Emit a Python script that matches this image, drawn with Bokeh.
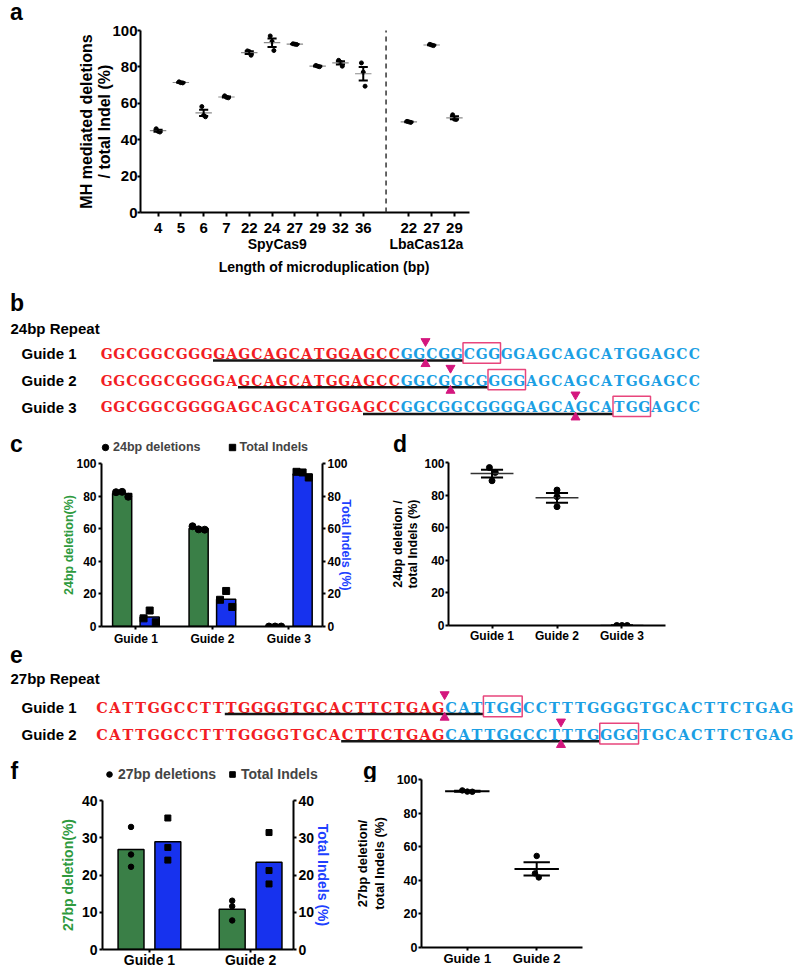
import numpy as np
from bokeh.plotting import figure
from bokeh.models import (Range1d, LinearAxis, FixedTicker, Arrow,
                          Legend, LegendItem, ColumnDataSource)
from bokeh.layouts import column, row
from bokeh.embed import file_html
from bokeh.resources import INLINE
from bokeh.core.properties import value

# ---------------------------------------------------------------- data
a_lengths = ["4", "5", "6", "7", "22", "24", "27", "29", "32", "36", "22", "27", "29"]
a_enzyme = ["SpyCas9"] * 10 + ["LbaCas12a"] * 3
a_reps = [
    [46.0, 44.6, 44.2],
    [71.8, 71.3, 71.2],
    [58.2, 53.5, 52.6],
    [64.1, 63.3, 63.0],
    [88.8, 88.4, 86.4],
    [97.0, 94.0, 89.0],
    [92.7, 92.5, 92.3],
    [80.8, 80.4, 80.1],
    [83.6, 82.6, 80.4],
    [82.2, 77.1, 69.4],
    [50.1, 49.8, 49.5],
    [92.4, 92.0, 91.7],
    [53.7, 51.3, 51.1],
]
a_groups = ["SpyCas9", "LbaCas12a"]
a_xtitle = "Length of microduplication (bp)"
a_ytitle = "MH mediated deletions\n/ total Indel (%)"

seq24 = "GGCGGCGGGGAGCAGCATGGAGCC"
b_guides = ["Guide 1", "Guide 2", "Guide 3"]
b_spacer_start = [9, 11, 21]

c_guides = ["Guide 1", "Guide 2", "Guide 3"]
c_del = [[82.4, 82.6, 79.6], [61.5, 59.6, 59.4], [0.0, 0.0, 0.0]]
c_indel = [[5.0, 9.8, 2.6], [16.4, 21.8, 12.0], [94.9, 94.5, 91.4]]
c_legend = ["24bp deletions", "Total Indels"]
d_ratio = [[96.9, 93.9, 88.8], [83.1, 79.0, 72.9], [0.0, 0.0, 0.0]]

seq27 = "CATTGGCCTTTGGGGTGCACTTCTGAG"
e_guides = ["Guide 1", "Guide 2"]
e_spacer_start = [10, 19]

f_guides = ["Guide 1", "Guide 2"]
f_del = [[32.9, 25.5, 22.2], [13.1, 11.6, 7.8]]
f_indel = [[35.3, 27.4, 24.0], [31.4, 21.2, 17.6]]
f_legend = ["27bp deletions", "Total Indels"]
g_ratio = [[93.5, 92.8, 92.7], [54.5, 44.1, 41.7]]

# ---------------------------------------------------------------- style
SANS = "Liberation Sans"
SEQF = "DejaVu Serif"
RED = "#F21D24"
BLUE = "#1C9FE4"
MAG = "#D4177E"
PAMC = "#E8457C"
GREEN = "#3A7F47"
BARBLUE = "#1732EE"
GREEN_TXT = "#2E9A3E"
BLUE_TXT = "#2040FF"


def no_align(p):
    try:
        p.frame_align = False
    except Exception:
        pass


def clear_bg(p):
    p.border_fill_color = None
    p.background_fill_color = None


def make_fig(w, h, frame, xr, yr, ox, oy):
    L, R, T, B = frame
    p = figure(width=w, height=h, x_range=Range1d(*xr), y_range=Range1d(*yr),
               output_backend="svg", toolbar_location=None,
               min_border_left=int(round(L - ox)), min_border_right=int(round(ox + w - R)),
               min_border_top=int(round(T - oy)), min_border_bottom=int(round(oy + h - B)))
    p.outline_line_color = None
    p.xgrid.visible = False
    p.ygrid.visible = False
    no_align(p)
    return p


def make_strip(w, h, ox, oy):
    p = figure(width=w, height=h, x_range=Range1d(ox, ox + w), y_range=Range1d(oy + h, oy),
               output_backend="svg", toolbar_location=None, min_border=0,
               x_axis_location=None, y_axis_location=None)
    p.outline_line_color = None
    p.xgrid.visible = False
    p.ygrid.visible = False
    no_align(p)
    return p


def strip_text(p, txt, x, y, size="23px"):
    p.text(x=[x], y=[y], text=[txt], text_font=value(SANS), text_font_style="bold",
           text_font_size=size, text_align="left", text_baseline="middle",
           text_color="black")


def strip_legend(p, labels, loc, size, glyph, spacing, standoff):
    r1 = p.scatter(x=[np.nan], y=[np.nan], marker="circle", size=6,
                   fill_color="black", line_color="black")
    r2 = p.scatter(x=[np.nan], y=[np.nan], marker="square", size=6,
                   fill_color="black", line_color="black")
    leg = Legend(items=[LegendItem(label=labels[0], renderers=[r1]),
                        LegendItem(label=labels[1], renderers=[r2])],
                 location=loc, orientation="horizontal", border_line_color=None,
                 background_fill_alpha=0, padding=0, margin=0, spacing=spacing,
                 glyph_width=glyph, glyph_height=glyph, label_height=glyph,
                 label_standoff=standoff, label_text_font=SANS,
                 label_text_font_style="bold", label_text_font_size=size,
                 label_text_baseline="middle")
    p.add_layout(leg)


def style_axis(ax, size, tick_out=3, standoff=1, label_size=None, label_standoff=2,
               label_color="black"):
    ax.axis_line_width = 2
    ax.axis_line_color = "black"
    ax.major_tick_line_width = 2
    ax.major_tick_line_color = "black"
    ax.major_tick_out = tick_out
    ax.major_tick_in = 0
    ax.minor_tick_line_color = None
    ax.major_label_text_font = SANS
    ax.major_label_text_font_style = "bold"
    ax.major_label_text_font_size = size
    ax.major_label_text_color = "black"
    ax.major_label_standoff = standoff
    ax.axis_label_text_font = SANS
    ax.axis_label_text_font_style = "bold"
    ax.axis_label_text_font_size = label_size or size
    ax.axis_label_text_color = label_color
    ax.axis_label_standoff = label_standoff
    ax.axis_label_text_line_height = 1.1


def overrides(pos, labels):
    d = {}
    for p_, l_ in zip(pos, labels):
        d[p_] = l_
        d[str(p_)] = l_
    return d


def mean_sem(p, xs, reps, jit, half_mean, half_cap, dot, mcolor, mwidth, ewidth=2):
    px, py = [], []
    for gi, (x, r) in enumerate(zip(xs, reps)):
        for k, v in enumerate(r):
            px.append(x + jit[gi][k])
            py.append(v)
    p.scatter(px, py, marker="circle", size=dot, fill_color="black", line_color="black")
    xs = np.asarray(xs, float)
    m = np.array([np.mean(r) for r in reps])
    s = np.array([np.std(r, ddof=1) / np.sqrt(len(r)) for r in reps])
    p.segment(x0=xs - half_mean, x1=xs + half_mean, y0=m, y1=m,
              line_color=mcolor, line_width=mwidth)
    p.segment(x0=xs, x1=xs, y0=m - s, y1=m + s, line_color="black", line_width=ewidth)
    for yy in (m + s, m - s):
        p.segment(x0=xs - half_cap, x1=xs + half_cap, y0=yy, y1=yy,
                  line_color="black", line_width=ewidth)


# ---------------------------------------------------------------- panel a
strip_a = make_strip(800, 26, 0, 0)
strip_text(strip_a, "a", 9.5, 11.8)

fa = (140, 469, 30, 212)
xra, yra = (-0.77, 13.66), (0, 100)
pa = make_fig(800, 266, fa, xra, yra, 0, 22)
clear_bg(pa)
pa.margin = (-4, 0, 0, 0)
a_pos = [i if e == a_groups[0] else i + 1 for i, e in enumerate(a_enzyme)]
a_sep = (max(p_ for p_, e in zip(a_pos, a_enzyme) if e == a_groups[0]) +
         min(p_ for p_, e in zip(a_pos, a_enzyme) if e == a_groups[1])) / 2
a_jit = [[-0.08, 0.0, 0.08]] * len(a_pos)
mean_sem(pa, a_pos, a_reps, a_jit, 0.36, 0.2, 4, "#8a8a8a", 1.2, 2)

style_axis(pa.xaxis[0], "15px", tick_out=4, standoff=6)
pa.xaxis[0].ticker = FixedTicker(ticks=a_pos)
pa.xaxis[0].major_label_overrides = overrides(a_pos, a_lengths)
style_axis(pa.yaxis[0], "15px", tick_out=3, standoff=0, label_size="16px", label_standoff=-4)
pa.yaxis[0].ticker = FixedTicker(ticks=[0, 20, 40, 60, 80, 100])
pa.yaxis[0].axis_label = a_ytitle

a_group_pos = [5.23, 11.77]
gax = LinearAxis(ticker=FixedTicker(ticks=a_group_pos),
                 major_label_overrides=overrides(a_group_pos, a_groups))
style_axis(gax, "14px", tick_out=0, standoff=0)
gax.axis_line_color = None
gax.major_tick_line_color = None
pa.add_layout(gax, "below")
a_title_pos = [7.28]
tax = LinearAxis(ticker=FixedTicker(ticks=a_title_pos),
                 major_label_overrides=overrides(a_title_pos, [a_xtitle]))
style_axis(tax, "14px", tick_out=0, standoff=4)
tax.axis_line_color = None
tax.major_tick_line_color = None
pa.add_layout(tax, "below")
pa.add_layout(Arrow(end=None, start=None, x_start=a_sep, y_start=101.6, x_end=a_sep,
                    y_end=-22, line_dash="5 4", line_width=1.5, line_color="#333333"))


# ---------------------------------------------------------------- sequence panels
def seq_panel(h, oy, xleft, pitch, row0, rstep, seq, guides, starts, letter, title,
              letter_mid, title_y, font_size):
    xr = ((0 - xleft) / pitch, (800 - xleft) / pitch)
    yr = ((oy + h - row0) / rstep, (oy - row0) / rstep)
    p = figure(width=800, height=h, x_range=Range1d(*xr), y_range=Range1d(*yr),
               output_backend="svg", toolbar_location=None, min_border=0,
               x_axis_location=None, y_axis_location=None)
    p.outline_line_color = None
    p.xgrid.visible = False
    p.ygrid.visible = False
    no_align(p)
    full = seq + seq
    xs, ys, tx, cl = [], [], [], []
    for r in range(len(guides)):
        for i, ch in enumerate(full):
            xs.append(i + 0.5)
            ys.append(r)
            tx.append(ch)
            cl.append(RED if i < len(seq) else BLUE)
    src = ColumnDataSource(dict(x=xs, y=ys, text=tx, color=cl))
    p.text(x="x", y="y", text="text", text_color="color", source=src,
           text_font=value(SEQF), text_font_style="bold", text_font_size=font_size,
           text_align="center", text_baseline="middle")
    rows = np.arange(len(guides), dtype=float)
    st = np.asarray(starts, float)
    pam = st + 20
    cut = pam - 3
    p.segment(x0=st, x1=pam, y0=rows + 0.25, y1=rows + 0.25, line_color="#151515",
              line_width=2.5)
    p.quad(left=pam, right=pam + 3, top=rows - 0.41, bottom=rows + 0.35,
           fill_color=None, line_color=PAMC, line_width=1.5)
    p.scatter(x=cut, y=rows - 0.47, marker="inverted_triangle", size=9,
              fill_color=MAG, line_color=MAG)
    p.scatter(x=cut, y=rows + 0.38, marker="triangle", size=9,
              fill_color=MAG, line_color=MAG)
    gx = (21 - xleft) / pitch
    p.text(x=[gx] * len(guides), y=list(rows), text=guides, text_font=value(SANS),
           text_font_style="bold", text_font_size="15px", text_align="left",
           text_baseline="middle", text_color="black")
    p.text(x=[(10 - xleft) / pitch], y=[(title_y - row0) / rstep], text=[title],
           text_font=value(SANS), text_font_style="bold", text_font_size="15px",
           text_align="left", text_baseline="middle", text_color="black")
    p.text(x=[(9.5 - xleft) / pitch], y=[(letter_mid - row0) / rstep], text=[letter],
           text_font=value(SANS), text_font_style="bold", text_font_size="23px",
           text_align="left", text_baseline="middle", text_color="black")
    return p


pb = seq_panel(134, 288, 100, 12.5, 353.3, 26.7, seq24, b_guides, b_spacer_start,
               "b", "24bp Repeat", 302, 328, "14px")
pe = seq_panel(108, 642, 95, 12.93, 706.7, 27.3, seq27, e_guides, e_spacer_start,
               "e", "27bp Repeat", 654, 678, "14.5px")
clear_bg(pe)
pe.margin = (-6, 0, 0, 0)


# ---------------------------------------------------------------- bar panels
def bar_panel(w, h, ox, oy, frame, xr, yr, guides, dels, indels, jit, off, bw, tick_size,
              ticks, ylab_l, ylab_r, lab_size, l_std, r_std, x_std, dot, sq):
    p = make_fig(w, h, frame, xr, yr, ox, oy)
    p.extra_y_ranges = {"right": Range1d(*yr)}
    xs = np.arange(len(guides), dtype=float)
    dm = [np.mean(r) for r in dels]
    im = [np.mean(r) for r in indels]
    p.vbar(x=xs - off, top=dm, bottom=0, width=bw, fill_color=GREEN,
           line_color="black", line_width=1.5)
    p.vbar(x=xs + off, top=im, bottom=0, width=bw, fill_color=BARBLUE,
           line_color="black", line_width=1.5, y_range_name="right")
    dx = [x - off + j for x in xs for j in jit]
    dy = [v for r in dels for v in r]
    ix = [x + off + j for x in xs for j in jit]
    iy = [v for r in indels for v in r]
    p.scatter(dx, dy, marker="circle", size=dot, fill_color="black", line_color="black")
    p.scatter(ix, iy, marker="square", size=sq, fill_color="black", line_color="black",
              y_range_name="right")
    style_axis(p.xaxis[0], tick_size, tick_out=3, standoff=x_std)
    p.xaxis[0].ticker = FixedTicker(ticks=list(xs))
    p.xaxis[0].major_label_overrides = overrides(list(xs), guides)
    style_axis(p.yaxis[0], tick_size, tick_out=3, standoff=2, label_size=lab_size,
               label_standoff=l_std, label_color=GREEN_TXT)
    p.yaxis[0].ticker = FixedTicker(ticks=ticks)
    p.yaxis[0].axis_label = ylab_l
    rax = LinearAxis(y_range_name="right", ticker=FixedTicker(ticks=ticks), axis_label=ylab_r)
    style_axis(rax, tick_size, tick_out=3, standoff=2, label_size=lab_size,
               label_standoff=r_std, label_color=BLUE_TXT)
    p.add_layout(rax, "right")
    return p


strip_cd = make_strip(800, 36, 0, 422)
strip_text(strip_cd, "c", 9.5, 443.7)
strip_text(strip_cd, "d", 392.5, 443.7)
strip_legend(strip_cd, c_legend, (97, 3), "12.5px", 16, 23, 0)

fc = (101, 322, 463, 628)
xrc, yrc = (-0.45, 2.44), (0, 100)
pc = bar_panel(388, 190, 0, 458, fc, xrc, yrc, c_guides, c_del, c_indel,
               [-0.08, 0.0, 0.08], 0.18, 0.25, "12px", [0, 20, 40, 60, 80, 100],
               "24bp deletion(%)", "Total Indels (%)", "12.5px", -3, -12, 2, 7, 7)

fd = (448, 665, 462, 625)
xrd, yrd = (-0.67, 2.67), (0, 100)
pd = make_fig(412, 190, fd, xrd, yrd, 388, 458)
d_jit = [[-0.04, 0.05, 0.0], [0.0, 0.0, 0.0], [-0.08, 0.0, 0.08]]
mean_sem(pd, list(range(len(c_guides))), d_ratio, d_jit, 0.33, 0.17, 6, "#333333", 1.5, 2)
style_axis(pd.xaxis[0], "12px", tick_out=3, standoff=0)
pd.xaxis[0].ticker = FixedTicker(ticks=list(range(len(c_guides))))
pd.xaxis[0].major_label_overrides = overrides(list(range(len(c_guides))), c_guides)
style_axis(pd.yaxis[0], "12px", tick_out=3, standoff=1, label_size="12.5px", label_standoff=1)
pd.yaxis[0].ticker = FixedTicker(ticks=[0, 20, 40, 60, 80, 100])
pd.yaxis[0].axis_label = "24bp deletion /\ntotal Indels (%)"

strip_fg = make_strip(800, 32, 0, 750)
strip_text(strip_fg, "f", 10, 770)
strip_text(strip_fg, "g", 362.5, 770)
strip_legend(strip_fg, f_legend, (102, 0), "14px", 14, 9, 2)

ff = (102, 293, 800, 950)
xrf, yrf = (-0.464, 1.424), (0, 40)
pf = bar_panel(340, 198, 0, 772, ff, xrf, yrf, f_guides, f_del, f_indel,
               [0.0, 0.0, 0.0], 0.182, 0.256, "14px", [0, 10, 20, 30, 40],
               "27bp deletion(%)", "Total Indels (%)", "14px", 3, -2, -1, 5.5, 6)
clear_bg(pf)

fg = (421, 582, 779, 947)
xrg, yrg = (-0.66, 1.66), (0, 100)
pg = make_fig(460, 198, fg, xrg, yrg, 340, 772)
clear_bg(pg)
g_jit = [[-0.072, 0.0, 0.072], [0.0, -0.025, 0.03]]
mean_sem(pg, list(range(len(f_guides))), g_ratio, g_jit, 0.32, 0.19, 5.5, "black", 2, 2)
style_axis(pg.xaxis[0], "13px", tick_out=3, standoff=0)
pg.xaxis[0].ticker = FixedTicker(ticks=list(range(len(f_guides))))
pg.xaxis[0].major_label_overrides = overrides(list(range(len(f_guides))), f_guides)
style_axis(pg.yaxis[0], "12.5px", tick_out=3, standoff=1, label_size="13px", label_standoff=7)
pg.yaxis[0].ticker = FixedTicker(ticks=[0, 20, 40, 60, 80, 100])
pg.yaxis[0].axis_label = "27bp deletion/\ntotal Indels (%)"

row_fg = row(pf, pg)
row_fg.margin = (-10, 0, 0, 0)

layout = column(strip_a, pa, pb, strip_cd, row(pc, pd), pe, strip_fg, row_fg)
open("out.html", "w").write(file_html(layout, INLINE))
